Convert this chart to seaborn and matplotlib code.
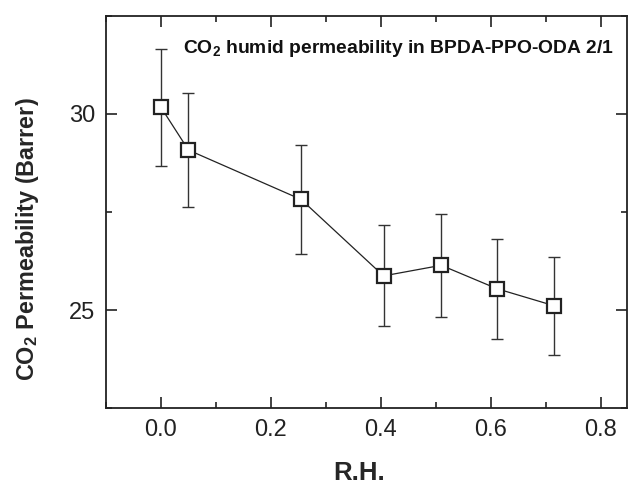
import matplotlib
matplotlib.use("Agg")
import matplotlib.pyplot as plt
import seaborn as sns
import pandas as pd
from matplotlib.ticker import MultipleLocator

rh = [0.0, 0.05, 0.255, 0.405, 0.51, 0.612, 0.715]
perm = [30.17, 29.08, 27.82, 25.87, 26.14, 25.54, 25.11]
err = [1.50, 1.45, 1.39, 1.29, 1.31, 1.27, 1.25]
xlabel = "R.H."
ylabel = "CO$_\\mathbf{2}$ Permeability (Barrer)"
note = "CO$_\\mathbf{2}$ humid permeability in BPDA-PPO-ODA 2/1"

df = pd.DataFrame({"rh": rh, "perm": perm, "err": err})

sns.set_style("ticks")
plt.rcParams["font.family"] = ["Liberation Sans", "DejaVu Sans"]
plt.rcParams["mathtext.fontset"] = "custom"
plt.rcParams["mathtext.rm"] = "Liberation Sans"
plt.rcParams["mathtext.bf"] = "Liberation Sans:bold"

fig = plt.figure(figsize=(6.28, 4.84), dpi=100)
ax = fig.add_axes([0.1688, 0.157, 0.8296, 0.810])

ax.errorbar(df["rh"], df["perm"], yerr=df["err"], fmt="none", ecolor="#333333",
            elinewidth=1.0, capsize=4, capthick=1.0, zorder=2)
sns.lineplot(data=df, x="rh", y="perm", ax=ax, color="#222222", linewidth=0.9,
             marker="s", markersize=10, markerfacecolor="white",
             markeredgecolor="#222222", markeredgewidth=1.6, zorder=3)

ax.set_xlim(-0.1, 0.848)
ax.set_ylim(22.5, 32.5)
ax.xaxis.set_major_locator(MultipleLocator(0.2))
ax.xaxis.set_minor_locator(MultipleLocator(0.1))
ax.yaxis.set_major_locator(MultipleLocator(5))
ax.yaxis.set_minor_locator(MultipleLocator(2.5))
ax.xaxis.set_major_formatter(matplotlib.ticker.FormatStrFormatter("%.1f"))
ax.tick_params(which="both", direction="in", top=True, right=True, width=1.2, colors="#222222")
ax.tick_params(which="major", length=8, labelsize=17, pad=8)
ax.tick_params(which="minor", length=4)
for s in ax.spines.values():
    s.set_linewidth(1.3)
    s.set_color("#222222")

ax.set_xlabel(xlabel, fontsize=18.5, fontweight="bold", labelpad=10)
ax.xaxis.set_label_coords(0.485, -0.135)
ax.set_ylabel(ylabel, fontsize=16.8, fontweight="bold", labelpad=8)
ax.yaxis.set_label_coords(-0.125, 0.43)
ax.text(0.04, 31.68, note, fontsize=13.9, fontweight="bold",
        ha="left", va="center", color="#111111")

fig.savefig("out.png", dpi=100)
